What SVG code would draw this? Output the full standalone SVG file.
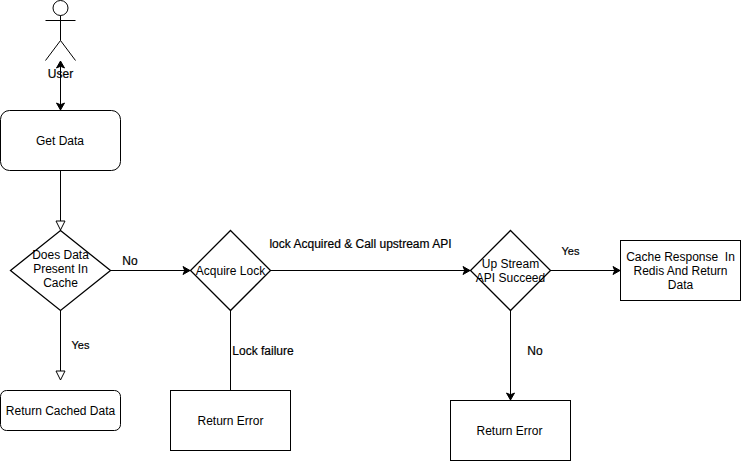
<svg xmlns="http://www.w3.org/2000/svg" width="741" height="461" viewBox="0 0 741 461">
<style>
text{font-family:"Liberation Sans",Arial,sans-serif;font-size:12px;fill:#000;text-anchor:middle;white-space:pre}
.s{fill:#fff;stroke:#000;stroke-width:1}
.d{fill:#fff;stroke:#000;stroke-width:1.3}
.c{fill:none;stroke:#000;stroke-width:1}
.b{stroke:#000;stroke-width:.2}
</style>
<defs>
<marker id="solid" markerUnits="userSpaceOnUse" markerWidth="10" markerHeight="10" refX="7" refY="4" orient="auto-start-reverse" overflow="visible"><path d="M0 0L7 4L0 8L1.75 4Z" fill="#000" stroke="#000"/></marker>
<marker id="open" markerUnits="userSpaceOnUse" markerWidth="10" markerHeight="12" refX="9" refY="4.500" orient="auto" overflow="visible"><path d="M0 0L9 4.500L0 9Z" fill="#fff" stroke="#000"/></marker>
</defs>
<rect width="741" height="461" fill="#fff"/>
<g id="connectors">
<path class="c" d="M60.500 61V110" marker-start="url(#solid)" marker-end="url(#solid)"/>
<path class="c" d="M60.500 170V230" marker-end="url(#open)"/>
<path class="c" d="M110.500 270.500H190" marker-end="url(#solid)"/>
<path class="c" d="M60.500 310V380" marker-end="url(#open)"/>
<path class="c" d="M230.500 310V390"/>
<path class="c" d="M270.500 270.500H470" marker-end="url(#solid)"/>
<path class="c" d="M550.500 270.500H620" marker-end="url(#solid)"/>
<path class="c" d="M510.500 310V400" marker-end="url(#solid)"/>
</g>
<g id="user">
<circle class="s" cx="60.500" cy="8" r="7.500"/>
<path class="c" d="M60.500 15.500V40.500M45.500 20.500H75.500M45.500 60.500L60.500 40.500L75.500 60.500"/>
<text x="60.500" y="78" class="b">User</text>
</g>
<g id="get-data"><rect class="s" x="0.500" y="110.500" width="120" height="60" rx="9" ry="9"/><text x="60" y="145">Get Data</text></g>
<g id="does-data-present"><path class="d" d="M60.500 230.500L110.500 270.500L60.500 310.500L10.500 270.500Z"/><text x="60.500" y="259">Does Data</text><text x="60.500" y="273">Present In</text><text x="60.500" y="287">Cache</text></g>
<g id="return-cached"><rect class="s" x="0.500" y="390.500" width="120" height="40" rx="6" ry="6"/><text x="60.500" y="415">Return Cached Data</text></g>
<g id="acquire-lock"><path class="d" d="M230.500 230.500L270.500 270.500L230.500 310.500L190.500 270.500Z"/><text x="230.500" y="275">Acquire Lock</text></g>
<g id="return-error-1"><rect class="s" x="170.500" y="390.500" width="120" height="60"/><text x="230.500" y="425">Return Error</text></g>
<g id="upstream"><path class="d" d="M510.500 230.500L550.500 270.500L510.500 310.500L470.500 270.500Z"/><text x="510.500" y="268">Up Stream</text><text x="510.500" y="282">API Succeed</text></g>
<g id="return-error-2"><rect class="s" x="450.500" y="400.500" width="120" height="60"/><text x="509.500" y="435">Return Error</text></g>
<g id="cache-response"><rect class="s" x="620.500" y="240.500" width="120" height="60"/><text x="680.500" y="261">Cache Response  In</text><text x="680.500" y="275">Redis And Return</text><text x="680.500" y="289">Data</text></g>
<g id="labels">
<text x="130" y="265" class="b">No</text>
<text x="80.500" y="349" class="b" style="font-size:11px">Yes</text>
<text x="263" y="355" class="b">Lock failure</text>
<text x="360.500" y="248" class="b">lock Acquired &amp; Call upstream API</text>
<text x="570.500" y="255" class="b" style="font-size:11px">Yes</text>
<text x="535" y="355" class="b">No</text>
</g>
</svg>
